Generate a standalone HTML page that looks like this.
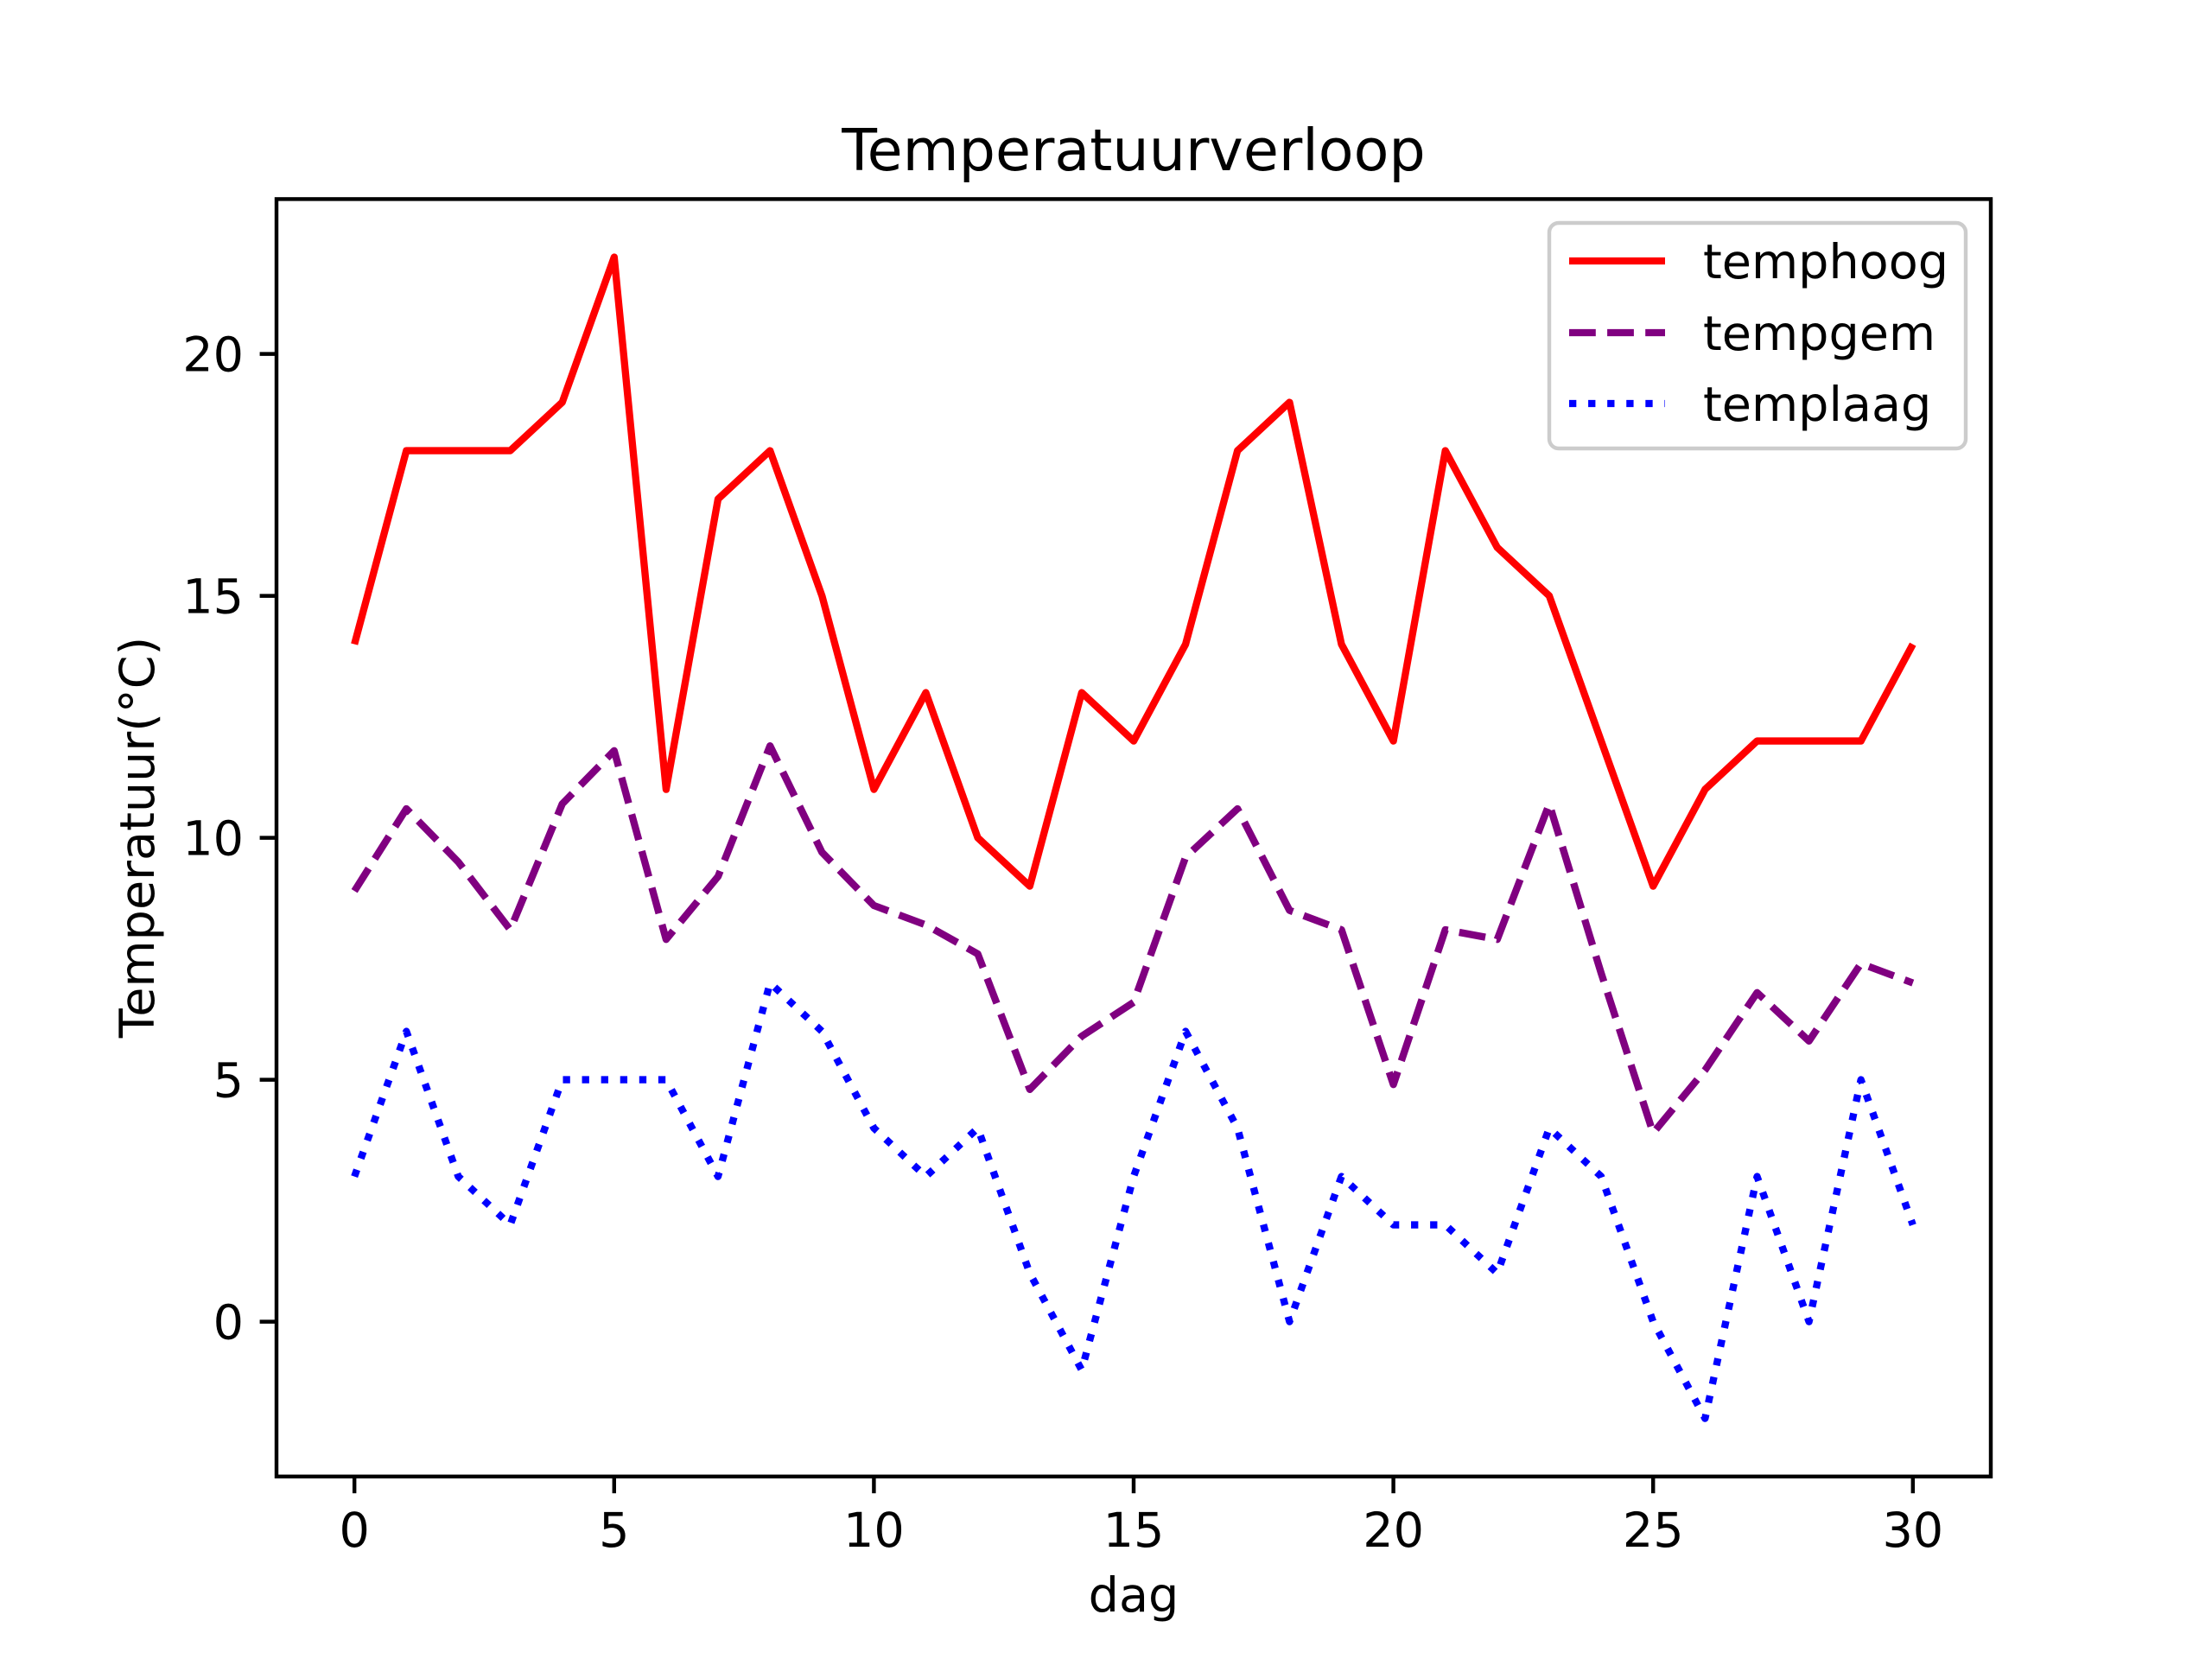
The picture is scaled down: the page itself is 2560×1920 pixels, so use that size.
<!DOCTYPE html>
<html><head><meta charset="utf-8"><style>
html,body{margin:0;padding:0;background:#fff}
svg{display:block}
text{font-family:"DejaVu Sans","Liberation Sans",sans-serif;fill:#000}
</style></head><body>
<svg id="s" width="2560" height="1920" viewBox="0 0 2560 1920" xmlns="http://www.w3.org/2000/svg">
<rect width="2560" height="1920" fill="#fff"/>
<g id="g"></g>
<text x="1312" y="197" font-size="66.7" text-anchor="middle">Temperatuurverloop</text>
<text x="1312" y="1865" font-size="55.6" text-anchor="middle">dag</text>
<text transform="translate(178,969) rotate(-90)" font-size="55.6" text-anchor="middle">Temperatuur(°C)</text>
<rect x="1793" y="258" width="482" height="261" rx="11" fill="#fff" fill-opacity="0.8" stroke="#ccc" stroke-width="4.4"/>
<line x1="1816" y1="302" x2="1927" y2="302" stroke="#f00" stroke-width="8.33"/>
<line x1="1816" y1="385" x2="1927" y2="385" stroke="purple" stroke-width="8.33" stroke-dasharray="30.8 13.3"/>
<line x1="1816" y1="467" x2="1927" y2="467" stroke="#00f" stroke-width="8.33" stroke-dasharray="8.33 13.75"/>
<text x="1971" y="322" font-size="55.6">temphoog</text>
<text x="1971" y="405" font-size="55.6">tempgem</text>
<text x="1971" y="487" font-size="55.6">templaag</text>
</svg>
<script>
var L=320,R=2304,B=1708.8,T=230.4;
function X(x){return L+(x+1.5)/33*(R-L);}
function Y(y){return B-(y+3.2)/26.4*(B-T);}
var hi=[14,18,18,18,19,22,11,17,18,15,11,13,10,9,13,12,14,18,19,14,12,18,16,15,12,9,11,12,12,12,14];
var gem=[8.9,10.6,9.5,8.1,10.7,11.8,7.9,9.2,11.9,9.7,8.6,8.2,7.6,4.8,5.9,6.6,9.6,10.6,8.5,8.1,4.9,8.1,7.9,10.7,7.2,3.9,5.2,6.8,5.8,7.4,7.0];
var lo=[3,6,3,2,5,5,5,3,7,6,4,3,4,1,-1,3,6,4,0,3,2,2,1,4,3,0,-2,3,0,5,2];
function path(d,c,da){var p=d.map(function(v,i){return (i?'L':'M')+X(i).toFixed(1)+' '+Y(v).toFixed(1);}).join(' ');
return '<path d="'+p+'" fill="none" stroke="'+c+'" stroke-width="8.33" stroke-linejoin="round"'+(da?' stroke-dasharray="'+da+'"':'')+'/>';}
var h='';
h+='<clipPath id="c"><rect x="'+L+'" y="'+T+'" width="'+(R-L)+'" height="'+(B-T)+'"/></clipPath>';
h+='<g clip-path="url(#c)">'+path(hi,'#f00')+path(gem,'purple','30.8 13.3')+path(lo,'#00f','8.33 13.75')+'</g>';
h+='<rect x="'+L+'" y="'+T+'" width="'+(R-L)+'" height="'+(B-T)+'" fill="none" stroke="#000" stroke-width="4.44"/>';
for(var t=0;t<=30;t+=5){var x=X(t);h+='<line x1="'+x+'" y1="'+B+'" x2="'+x+'" y2="'+(B+19.4)+'" stroke="#000" stroke-width="4.44"/>';
h+='<text x="'+x+'" y="1790" font-size="55.6" text-anchor="middle">'+t+'</text>';}
for(var t=0;t<=20;t+=5){var y=Y(t);h+='<line x1="'+L+'" y1="'+y+'" x2="'+(L-19.4)+'" y2="'+y+'" stroke="#000" stroke-width="4.44"/>';
h+='<text x="282" y="'+(y+20)+'" font-size="55.6" text-anchor="end">'+t+'</text>';}
document.getElementById('g').innerHTML=h;
</script>
</body></html>
